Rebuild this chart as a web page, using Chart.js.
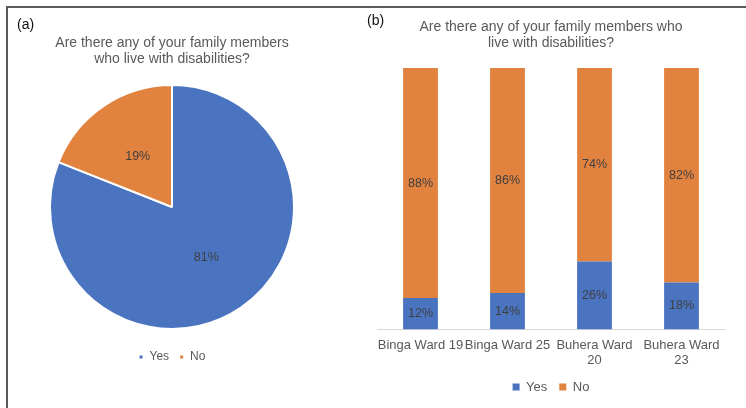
<!DOCTYPE html>
<html>
<head>
<meta charset="utf-8">
<script src="https://cdn.jsdelivr.net/npm/chart.js@4.4.1/dist/chart.umd.min.js"></script>
<style>
  html, body { margin: 0; padding: 0; background: #fff; }
  body { width: 746px; height: 408px; position: relative; overflow: hidden; font-family: "Liberation Sans", Arial, sans-serif; }
  .frame { position: absolute; left: 6px; top: 6px; width: 760px; height: 420px; border-top: 2px solid #5a5a5a; border-left: 2px solid #5a5a5a; }
  .tag { position: absolute; font-size: 14px; line-height: 16px; color: #111; }
  #pieWrap { position: absolute; left: 0; top: 0; width: 350px; height: 408px; }
  #barWrap { position: absolute; left: 360px; top: 0; width: 386px; height: 408px; }
</style>
</head>
<body>
<div class="frame"></div>
<div id="pieWrap"><canvas id="pieChart"></canvas></div>
<div id="barWrap"><canvas id="barChart"></canvas></div>
<div class="tag" style="left:17px; top:16px;">(a)</div>
<div class="tag" style="left:367px; top:12px;">(b)</div>
<script>
// Panel (a) data
const pieLabels = ['Yes', 'No'];
const pieValues = [81, 19];

// Panel (b) data
const wards = ['Binga Ward 19', 'Binga Ward 25', ['Buhera Ward', '20'], ['Buhera Ward', '23']];
const yesValues = [12, 14, 26, 18];
const noValues = [88, 86, 74, 82];

const blue = '#4A73C0';
const orange = '#E2823F';
const fontFamily = '"Liberation Sans", Arial, sans-serif';

// simple value labels, drawn at each element's centre
const valueLabels = {
  id: 'valueLabels',
  afterDatasetsDraw(chart) {
    const ctx = chart.ctx;
    ctx.save();
    ctx.font = '12.5px ' + fontFamily;
    ctx.fillStyle = '#404040';
    ctx.textAlign = 'center';
    ctx.textBaseline = 'middle';
    chart.data.datasets.forEach((ds, i) => {
      chart.getDatasetMeta(i).data.forEach((el, j) => {
        const p = el.getCenterPoint();
        ctx.fillText(ds.data[j] + '%', p.x, p.y);
      });
    });
    ctx.restore();
  }
};

new Chart(document.getElementById('pieChart'), {
  type: 'pie',
  data: {
    labels: pieLabels,
    datasets: [{
      data: pieValues,
      backgroundColor: [blue, orange],
      borderColor: '#fff',
      borderWidth: 2
    }]
  },
  options: {
    responsive: true,
    maintainAspectRatio: false,
    animation: false,
    radius: 122,
    layout: { padding: { left: 0, right: 6, top: 0, bottom: 35 } },
    plugins: {
      title: {
        display: true,
        text: ['Are there any of your family members', 'who live with disabilities?'],
        color: '#595959',
        font: { family: fontFamily, size: 14, weight: 'normal', lineHeight: 16 / 14 },
        padding: { top: 35, bottom: 6 }
      },
      legend: {
        position: 'bottom',
        labels: {
          color: '#595959',
          font: { family: fontFamily, size: 12 },
          usePointStyle: true,
          pointStyle: 'rect',
          boxWidth: 5,
          boxHeight: 5,
          padding: 10
        }
      },
      tooltip: { enabled: false }
    }
  },
  plugins: [valueLabels]
});

new Chart(document.getElementById('barChart'), {
  type: 'bar',
  data: {
    labels: wards,
    datasets: [
      { label: 'Yes', data: yesValues, backgroundColor: blue, barPercentage: 0.4, categoryPercentage: 1 },
      { label: 'No', data: noValues, backgroundColor: orange, barPercentage: 0.4, categoryPercentage: 1 }
    ]
  },
  options: {
    responsive: true,
    maintainAspectRatio: false,
    animation: false,
    layout: { padding: { left: 17, right: 21, top: 0, bottom: 4.5 } },
    scales: {
      x: {
        stacked: true,
        grid: { display: false, drawTicks: false },
        border: { display: true, color: '#d9d9d9', width: 1 },
        ticks: {
          color: '#595959',
          font: { family: fontFamily, size: 13 },
          padding: 8,
          maxRotation: 0,
          autoSkip: false
        },
        afterFit(scale) { scale.height = 39; }
      },
      y: { stacked: true, display: false, min: 0, max: 100 }
    },
    plugins: {
      title: {
        display: true,
        text: ['Are there any of your family members who', 'live with disabilities?'],
        color: '#595959',
        font: { family: fontFamily, size: 14, weight: 'normal', lineHeight: 16 / 14 },
        padding: { top: 19, bottom: 17 }
      },
      legend: {
        position: 'bottom',
        labels: {
          color: '#595959',
          font: { family: fontFamily, size: 13 },
          usePointStyle: true,
          pointStyle: 'rect',
          boxWidth: 7,
          boxHeight: 7,
          padding: 12
        }
      },
      tooltip: { enabled: false }
    }
  },
  plugins: [valueLabels]
});
</script>
</body>
</html>
